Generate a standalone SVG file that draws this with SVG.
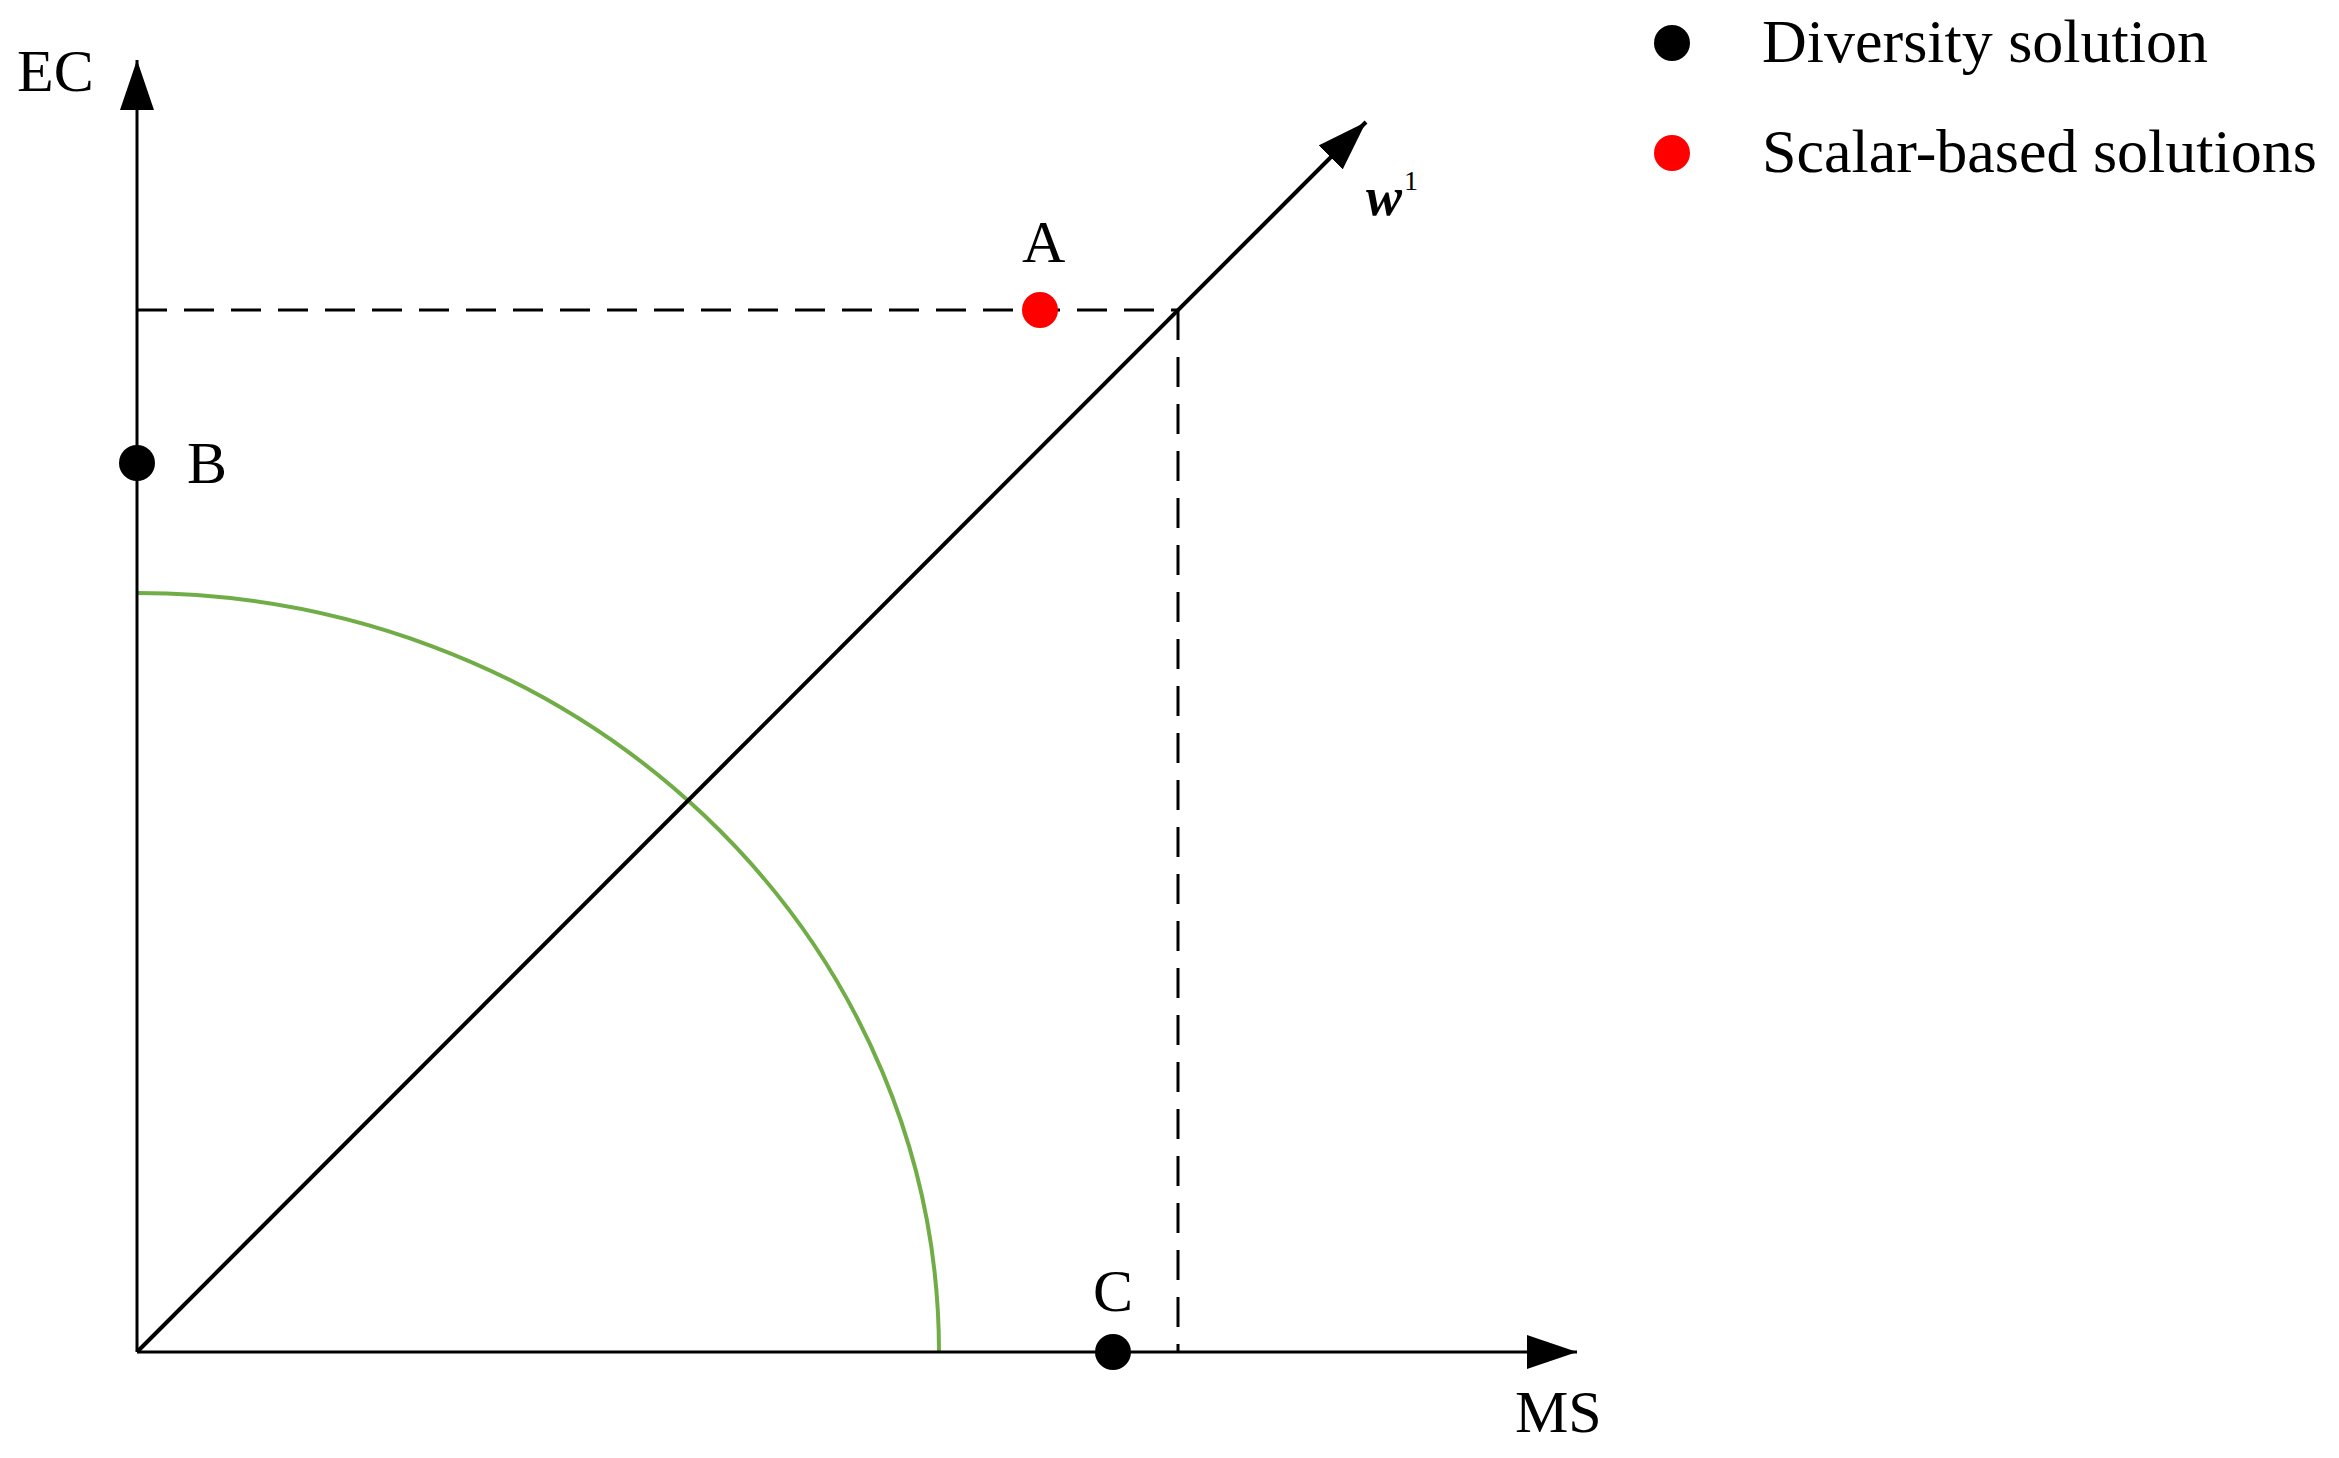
<svg xmlns="http://www.w3.org/2000/svg" width="2339" height="1458" viewBox="0 0 2339 1458">
<style>
.lbl{font-family:"Liberation Serif","Times New Roman",serif;font-size:60px;fill:#000}
.leg{font-family:"Liberation Serif","Times New Roman",serif;font-size:62px;fill:#000}
.axis{stroke:#000;stroke-width:3;fill:none}
.diag{stroke:#000;stroke-width:4;fill:none}
.dash{stroke:#000;stroke-width:3;stroke-dasharray:30 17;fill:none}
</style>
<defs>
<marker id="arr" viewBox="0 0 50 34" refX="50" refY="17" markerWidth="50" markerHeight="34" markerUnits="userSpaceOnUse" orient="auto">
<path d="M0,0 L50,17 L0,34 z" fill="#000"/>
</marker>
</defs>
<rect width="2339" height="1458" fill="#fff"/>
<g id="connectors">
<line class="dash" x1="137" y1="310" x2="1179" y2="310"/>
<line class="dash" x1="1178" y1="310" x2="1178" y2="1352"/>
<path d="M137,593 A802,759 0 0 1 939,1352" fill="none" stroke="#70AD47" stroke-width="4"/>
<line class="axis" x1="137" y1="1352" x2="137" y2="60" marker-end="url(#arr)"/>
<line class="axis" x1="137" y1="1352" x2="1577" y2="1352" marker-end="url(#arr)"/>
<line class="diag" x1="137" y1="1352" x2="1366" y2="122" marker-end="url(#arr)"/>
</g>
<g id="axis-labels">
<text class="lbl" x="17" y="91">EC</text>
<text class="lbl" x="1515" y="1432">MS</text>
<text x="1366" y="215" font-family="Liberation Serif,serif" font-size="54" font-weight="bold" font-style="italic">w</text>
<text x="1404" y="190" font-family="Liberation Serif,serif" font-size="28">1</text>
</g>
<g id="node-A">
<circle cx="1040" cy="310" r="18" fill="#f00"/>
<text class="lbl" x="1022" y="262">A</text>
</g>
<g id="node-B">
<circle cx="137" cy="463" r="18" fill="#000"/>
<text class="lbl" x="187" y="483">B</text>
</g>
<g id="node-C">
<circle cx="1113" cy="1352" r="18" fill="#000"/>
<text class="lbl" x="1093" y="1311">C</text>
</g>
<g id="legend">
<circle cx="1672" cy="43" r="18" fill="#000"/>
<text class="leg" x="1762" y="62">Diversity solution</text>
<circle cx="1672" cy="153" r="18" fill="#f00"/>
<text class="leg" x="1762" y="172">Scalar-based solutions</text>
</g>
</svg>
